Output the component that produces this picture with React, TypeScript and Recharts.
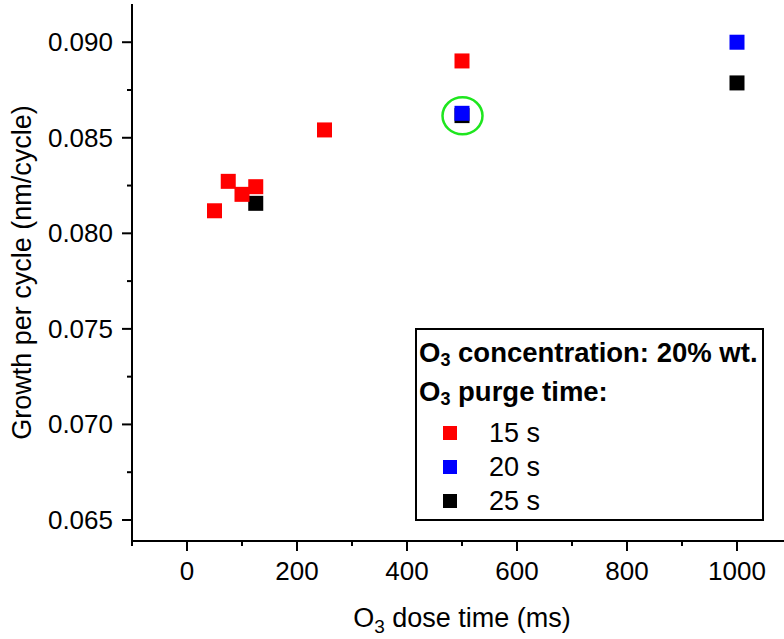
import React from 'react'
import { ScatterChart, Scatter, XAxis, YAxis, Label } from 'recharts'

// O3 dose time (ms) vs growth per cycle (nm/cycle), one series per purge time
const doseTime15 = [50, 75, 100, 125, 250, 500]
const gpc15 = [0.08118, 0.08272, 0.08204, 0.08244, 0.08541, 0.08902]
const doseTime20 = [500, 1000]
const gpc20 = [0.08628, 0.09]
const doseTime25 = [125, 500, 1000]
const gpc25 = [0.08157, 0.08616, 0.08787]

// circled point
const highlightDose = [500]
const highlightGpc = [0.08615]

const xTicks = [-100, 0, 100, 200, 300, 400, 500, 600, 700, 800, 900, 1000, 1100]
const xTopTicks = [0, 100, 200, 300, 400, 500, 600, 700, 800, 900, 1000]
const yTicks = [0.065, 0.0675, 0.07, 0.0725, 0.075, 0.0775, 0.08, 0.0825, 0.085, 0.0875, 0.09]
const yMajorTicks = [0.065, 0.07, 0.075, 0.08, 0.085, 0.09]

const seriesNames = ['15 s', '20 s', '25 s']
const seriesColors = ['#ff0000', '#0000ff', '#000000']

const FONT = "'Liberation Sans', Arial, Helvetica, sans-serif"
const FS = 26

const toPoints = (xs: number[], ys: number[]) => xs.map((x, i) => ({ x, y: ys[i] }))

const isMajorX = (v: number) => v >= 0 && v <= 1000 && v % 200 === 0
const isMajorY = (v: number) => Math.abs(v * 200 - Math.round(v * 200)) < 1e-6

function Square(props: any) {
  const { cx, cy, fill } = props
  if (cx == null || cy == null) return null
  return <rect x={cx - 7.5} y={cy - 7.5} width={15} height={15} fill={fill} />
}

function Ring(props: any) {
  const { cx, cy } = props
  if (cx == null || cy == null) return null
  return <ellipse cx={cx + 0.5} cy={cy} rx={20} ry={18.5} fill="none" stroke="#1ee61e" strokeWidth={2.5} />
}

function BottomTick({ x, y, payload }: any) {
  const v = payload.value
  const major = isMajorX(v)
  return (
    <g>
      <line x1={x} x2={x} y1={y} y2={y + (major ? 10 : 5)} stroke="#000" strokeWidth={2} />
      {major && (
        <text x={x} y={y + 39} textAnchor="middle" fontFamily={FONT} fontSize={FS} fill="#000">
          {v}
        </text>
      )}
    </g>
  )
}

function TopTick({ x, y }: any) {
  return <line x1={x} x2={x} y1={y} y2={y + 10} stroke="#000" strokeWidth={2} />
}

function LeftTick({ x, y, payload }: any) {
  const v = payload.value
  const major = isMajorY(v)
  return (
    <g>
      <line x1={x - (major ? 10 : 5)} x2={x} y1={y} y2={y} stroke="#000" strokeWidth={2} />
      {major && (
        <text x={x - 19} y={y + 9} textAnchor="end" fontFamily={FONT} fontSize={FS} fill="#000">
          {v.toFixed(3)}
        </text>
      )}
    </g>
  )
}

function RightTick({ x, y }: any) {
  return <line x1={x - 10} x2={x} y1={y} y2={y} stroke="#000" strokeWidth={2} />
}

function XTitle({ viewBox }: any) {
  const { x, y, width } = viewBox
  return (
    <text x={x + width / 2} y={y + 86} textAnchor="middle" fontFamily={FONT} fontSize={27} fill="#000">
      O<tspan fontSize={19} dy={6}>3</tspan>
      <tspan dy={-6}> dose time (ms)</tspan>
    </text>
  )
}

function YTitle({ viewBox }: any) {
  const { y, height } = viewBox
  const cx = 31
  const cy = y + height / 2
  return (
    <text
      x={cx}
      y={cy}
      textAnchor="middle"
      fontFamily={FONT}
      fontSize={27}
      fill="#000"
      transform={`rotate(-90, ${cx}, ${cy})`}
    >
      Growth per cycle (nm/cycle)
    </text>
  )
}

function LegendBox() {
  const rowY = [433, 467, 501]
  return (
    <svg
      width={352}
      height={196}
      style={{ position: 'absolute', left: 414, top: 327 }}
      fontFamily={FONT}
    >
      <rect x={2} y={2} width={347} height={191} fill="#fff" stroke="#000" strokeWidth={2} />
      <text x={5} y={35} fontSize={27.5} fontWeight="bold">
        O<tspan fontSize={18} dy={4}>3</tspan>
        <tspan dy={-4}> concentration: 20% wt.</tspan>
      </text>
      <text x={5} y={74} fontSize={27.5} fontWeight="bold">
        O<tspan fontSize={18} dy={4}>3</tspan>
        <tspan dy={-4}> purge time:</tspan>
      </text>
      {seriesNames.map((name, i) => (
        <g key={name}>
          <rect x={36 - 7} y={rowY[i] - 327 - 7} width={14} height={14} fill={seriesColors[i]} />
          <text x={75} y={rowY[i] - 327 + 9} fontSize={27}>
            {name}
          </text>
        </g>
      ))}
    </svg>
  )
}

export default function App() {
  return (
    <div
      style={{
        position: 'fixed',
        left: 0,
        top: 0,
        width: 784,
        height: 639,
        overflow: 'hidden',
        background: '#fff',
      }}
    >
      <ScatterChart width={800} height={639} margin={{ top: 4, right: 8, bottom: 0, left: 0 }}>
        <XAxis
          xAxisId="bottom"
          dataKey="x"
          type="number"
          domain={[-100, 1100]}
          ticks={xTicks}
          interval={0}
          allowDataOverflow
          height={98}
          tickSize={0}
          tickMargin={0}
          tickLine={false}
          tick={<BottomTick />}
          axisLine={{ stroke: '#000', strokeWidth: 2 }}
        >
          <Label content={<XTitle />} />
        </XAxis>
        <XAxis
          xAxisId="top"
          orientation="top"
          dataKey="x"
          type="number"
          domain={[-100, 1100]}
          ticks={xTopTicks}
          interval={0}
          allowDataOverflow
          height={0}
          tickSize={0}
          tickMargin={0}
          tickLine={false}
          tick={<TopTick />}
          axisLine={{ stroke: '#000', strokeWidth: 2 }}
        />
        <YAxis
          yAxisId="left"
          dataKey="y"
          type="number"
          domain={[0.0639, 0.092]}
          ticks={yTicks}
          interval={0}
          allowDataOverflow
          width={132}
          tickSize={0}
          tickMargin={0}
          tickLine={false}
          tick={<LeftTick />}
          axisLine={{ stroke: '#000', strokeWidth: 2 }}
        >
          <Label content={<YTitle />} />
        </YAxis>
        <YAxis
          yAxisId="right"
          orientation="right"
          dataKey="y"
          type="number"
          domain={[0.0639, 0.092]}
          ticks={yMajorTicks}
          interval={0}
          allowDataOverflow
          width={0}
          tickSize={0}
          tickMargin={0}
          tickLine={false}
          tick={<RightTick />}
          axisLine={{ stroke: '#000', strokeWidth: 2 }}
        />

        <Scatter
          name="25 s"
          xAxisId="bottom"
          yAxisId="left"
          data={toPoints(doseTime25, gpc25)}
          fill={seriesColors[2]}
          shape={<Square />}
          isAnimationActive={false}
        />
        <Scatter
          name="15 s"
          xAxisId="bottom"
          yAxisId="left"
          data={toPoints(doseTime15, gpc15)}
          fill={seriesColors[0]}
          shape={<Square />}
          isAnimationActive={false}
        />
        <Scatter
          name="20 s"
          xAxisId="bottom"
          yAxisId="left"
          data={toPoints(doseTime20, gpc20)}
          fill={seriesColors[1]}
          shape={<Square />}
          isAnimationActive={false}
        />
        <Scatter
          name="highlight"
          xAxisId="top"
          yAxisId="right"
          data={toPoints(highlightDose, highlightGpc)}
          shape={<Ring />}
          isAnimationActive={false}
        />
      </ScatterChart>
      <LegendBox />
    </div>
  )
}
